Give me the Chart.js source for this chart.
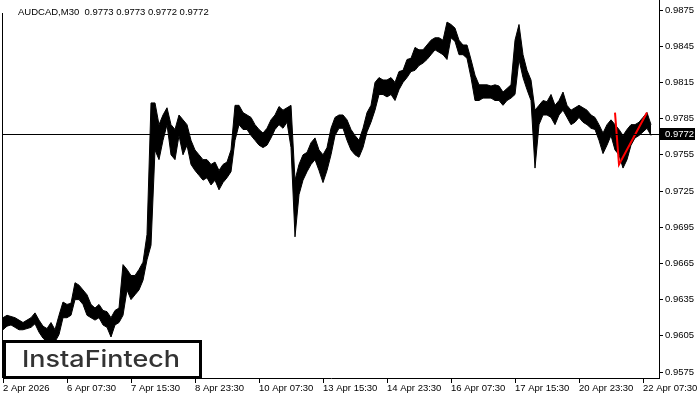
<!DOCTYPE html>
<html><head><meta charset="utf-8">
<script src="https://cdn.jsdelivr.net/npm/chart.js@4"></script>
<style>html,body{margin:0;padding:0;background:#fff;overflow:hidden;}canvas{display:block;}</style>
</head><body>
<canvas id="c" width="700" height="400"></canvas>
<script>
const symbolTitle = "AUDCAD,M30  0.9773 0.9773 0.9772 0.9772";
const logoText = "InstaFintech";
const tickLabels = ["2 Apr 2026","6 Apr 07:30","7 Apr 15:30","8 Apr 23:30","10 Apr 07:30","13 Apr 15:30","14 Apr 23:30","16 Apr 07:30","17 Apr 15:30","20 Apr 23:30","22 Apr 07:30"];
const yTickValues = [0.9575,0.9605,0.9635,0.9665,0.9695,0.9725,0.9755,0.9785,0.9815,0.9845,0.9875];
const currentPrice = 0.9772;

// one sample every 4 bars (2 hours), high / low of each group
const highs = [0.9620,0.9622,0.9621,0.9620,0.9618,0.9616,0.9618,0.9620,0.9624,0.9618,
0.9613,0.9611,0.9616,0.9610,0.9622,0.9633,0.9631,0.9632,0.9649,0.9647,
0.9643,0.9639,0.9631,0.9628,0.9631,0.9626,0.9625,0.9620,0.9626,0.9628,
0.9664,0.9660,0.9655,0.9655,0.9660,0.9666,0.9689,0.9798,0.9798,0.9780,
0.9788,0.9794,0.9780,0.9776,0.9788,0.9784,0.9780,0.9767,0.9759,0.9755,
0.9751,0.9751,0.9747,0.9749,0.9742,0.9747,0.9749,0.9759,0.9796,0.9796,
0.9790,0.9788,0.9786,0.9780,0.9776,0.9773,0.9777,0.9784,0.9788,0.9795,
0.9792,0.9794,0.9796,0.9734,0.9747,0.9755,0.9757,0.9765,0.9769,0.9759,
0.9755,0.9761,0.9777,0.9786,0.9788,0.9788,0.9784,0.9776,0.9771,0.9767,
0.9777,0.9790,0.9796,0.9815,0.9819,0.9817,0.9817,0.9819,0.9815,0.9824,
0.9825,0.9834,0.9835,0.9844,0.9842,0.9842,0.9846,0.9850,0.9852,0.9852,
0.9850,0.9865,0.9863,0.9860,0.9850,0.9846,0.9846,0.9834,0.9821,0.9813,
0.9813,0.9813,0.9812,0.9813,0.9812,0.9807,0.9810,0.9813,0.9850,0.9863,
0.9838,0.9825,0.9817,0.9792,0.9796,0.9800,0.9799,0.9805,0.9796,0.9800,
0.9807,0.9796,0.9792,0.9794,0.9796,0.9794,0.9792,0.9788,0.9786,0.9780,
0.9773,0.9780,0.9784,0.9780,0.9776,0.9771,0.9776,0.9780,0.9780,0.9782,
0.9786,0.9790,0.9780];
const lows = [0.9610,0.9613,0.9614,0.9612,0.9610,0.9610,0.9611,0.9612,0.9615,0.9608,
0.9603,0.9600,0.9601,0.9600,0.9606,0.9620,0.9620,0.9622,0.9635,0.9635,
0.9631,0.9622,0.9620,0.9618,0.9620,0.9614,0.9612,0.9604,0.9614,0.9616,
0.9622,0.9643,0.9635,0.9639,0.9643,0.9651,0.9668,0.9680,0.9759,0.9751,
0.9767,0.9780,0.9755,0.9751,0.9771,0.9755,0.9763,0.9747,0.9742,0.9738,
0.9734,0.9736,0.9730,0.9734,0.9726,0.9732,0.9736,0.9741,0.9767,0.9780,
0.9776,0.9776,0.9771,0.9767,0.9763,0.9761,0.9763,0.9769,0.9776,0.9780,
0.9777,0.9782,0.9761,0.9687,0.9722,0.9734,0.9741,0.9747,0.9751,0.9742,
0.9732,0.9742,0.9755,0.9771,0.9777,0.9777,0.9767,0.9759,0.9755,0.9753,
0.9761,0.9774,0.9782,0.9792,0.9805,0.9805,0.9803,0.9805,0.9800,0.9809,
0.9815,0.9819,0.9824,0.9825,0.9829,0.9831,0.9834,0.9838,0.9842,0.9840,
0.9838,0.9834,0.9852,0.9849,0.9838,0.9838,0.9835,0.9819,0.9800,0.9800,
0.9802,0.9802,0.9802,0.9800,0.9800,0.9796,0.9800,0.9802,0.9805,0.9834,
0.9819,0.9809,0.9800,0.9744,0.9780,0.9788,0.9788,0.9786,0.9780,0.9788,
0.9792,0.9786,0.9780,0.9782,0.9786,0.9782,0.9780,0.9777,0.9776,0.9767,
0.9756,0.9763,0.9771,0.9759,0.9755,0.9744,0.9751,0.9763,0.9769,0.9771,
0.9774,0.9777,0.9771];

// red pattern line vertices (sample index, price)
const patternIndex = [153, 154, 161];
const patternPrice = [0.9790, 0.9747, 0.9790];

const SAMPLES_PER_LABEL = 16;
const TOTAL_SLOTS = 165;
const labels = [];
for (let i = 0; i < TOTAL_SLOTS; i++) {
  labels.push(i % SAMPLES_PER_LABEL === 0 && tickLabels[i / SAMPLES_PER_LABEL] ? tickLabels[i / SAMPLES_PER_LABEL] : '');
}
const pattern = labels.map(() => null);
patternIndex.forEach((ix, k) => { pattern[ix] = patternPrice[k]; });

const FONT = {family: "'Liberation Sans', Arial, sans-serif", size: 9.5};

const extras = {
  id: 'extras',
  afterDatasetsDraw(chart) {
    const ctx = chart.ctx, a = chart.chartArea;
    const y = Math.round(chart.scales.y.getPixelForValue(currentPrice)) + 0.5;
    ctx.save();
    ctx.strokeStyle = '#000'; ctx.lineWidth = 1;
    ctx.beginPath(); ctx.moveTo(a.left, y); ctx.lineTo(a.right, y); ctx.stroke();
    ctx.restore();
  },
  afterDraw(chart) {
    const ctx = chart.ctx, a = chart.chartArea;
    ctx.save();
    // left frame
    ctx.strokeStyle = '#000'; ctx.lineWidth = 1;
    ctx.beginPath(); ctx.moveTo(2.5, 13); ctx.lineTo(2.5, a.bottom); ctx.stroke();
    // title
    ctx.fillStyle = '#000';
    ctx.font = "9.5px 'Liberation Sans', Arial, sans-serif";
    ctx.textBaseline = 'middle'; ctx.textAlign = 'left';
    ctx.fillText(symbolTitle, 18, 12);
    // current price box
    const py = Math.round(chart.scales.y.getPixelForValue(currentPrice));
    ctx.fillStyle = '#000';
    ctx.fillRect(a.right + 1, py - 6, 35, 12);
    ctx.fillStyle = '#fff';
    ctx.fillText(currentPrice.toFixed(4), a.right + 6, py + 0.5);
    // logo
    ctx.fillStyle = '#fff';
    ctx.fillRect(3, 340, 199, 38);
    ctx.strokeStyle = '#000'; ctx.lineWidth = 3;
    ctx.strokeRect(4.5, 341.5, 196, 36);
    ctx.fillStyle = '#333';
    ctx.font = "500 23.5px Inter, 'Open Sans', sans-serif";
    ctx.textBaseline = 'alphabetic';
    const w = ctx.measureText(logoText).width;
    ctx.translate(22, 367);
    ctx.scale(158 / w, 1);
    ctx.fillText(logoText, 0, 0);
    ctx.restore();
  }
};

new Chart(document.getElementById('c'), {
  type: 'line',
  data: {
    labels: labels,
    datasets: [
      {data: pattern, borderColor: '#ff0000', borderWidth: 2, spanGaps: true, fill: false, pointRadius: 0, order: 0},
      {data: lows, borderColor: '#000', borderWidth: 1, fill: false, pointRadius: 0, order: 2},
      {data: highs, borderColor: '#000', borderWidth: 1, backgroundColor: '#000', fill: '-1', pointRadius: 0, order: 1}
    ]
  },
  options: {
    responsive: false, animation: false, devicePixelRatio: 1,
    layout: {padding: {left: 3, top: 0, right: 0, bottom: 0}},
    plugins: {legend: {display: false}, tooltip: {enabled: false}, title: {display: false}},
    elements: {point: {radius: 0}, line: {tension: 0}},
    scales: {
      x: {
        type: 'category', offset: false,
        grid: {display: true, drawOnChartArea: false, drawTicks: true, tickLength: 5,
               color: c => labels[c.index] ? '#000' : 'rgba(0,0,0,0)'},
        border: {display: true, color: '#000', width: 1},
        ticks: {autoSkip: false, maxRotation: 0, minRotation: 0, align: 'start', padding: 0, color: '#000', font: FONT},
        afterFit(s) { s.height = 22; s.paddingLeft = 0; s.paddingRight = 0; }
      },
      y: {
        type: 'linear', position: 'right', min: 0.957003, max: 0.98833,
        grid: {drawOnChartArea: false, drawTicks: true, tickLength: 4, color: '#000'},
        border: {display: true, color: '#000', width: 1},
        ticks: {padding: 2, color: '#000', font: FONT, callback: v => Number(v).toFixed(4)},
        afterBuildTicks(s) { s.ticks = yTickValues.map(v => ({value: v})); },
        afterFit(s) { s.width = 41; s.paddingTop = 0; s.paddingBottom = 0; }
      }
    }
  },
  plugins: [extras]
});
</script>
</body></html>
